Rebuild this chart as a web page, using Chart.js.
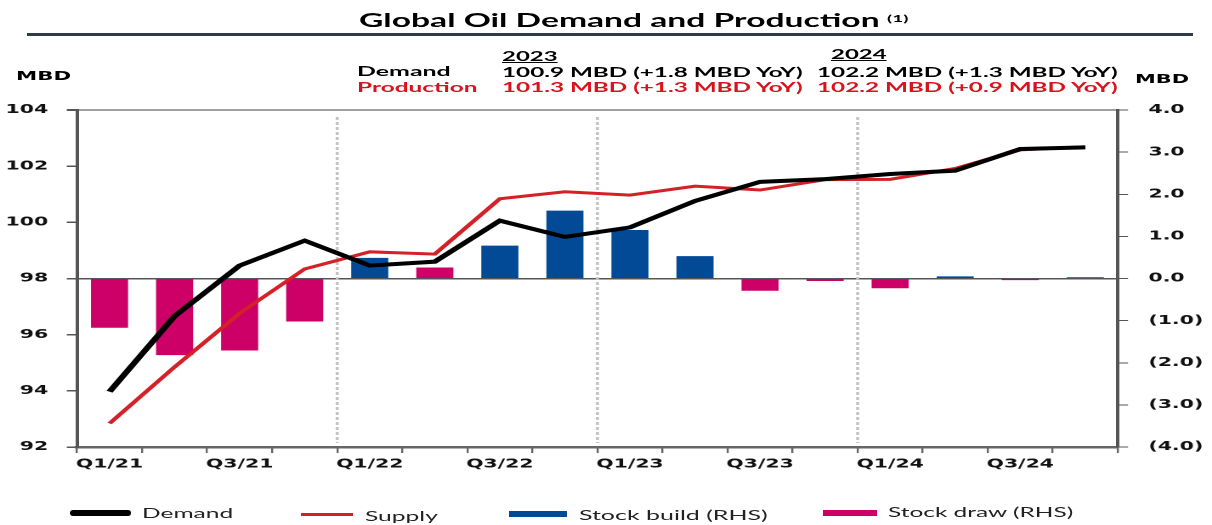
<!DOCTYPE html>
<html>
<head>
<meta charset="utf-8">
<script src="https://cdn.jsdelivr.net/npm/chart.js@4.4.1/dist/chart.umd.min.js"></script>
<style>
  html, body { margin: 0; padding: 0; background: #fff; }
  body { width: 1212px; height: 525px; position: relative; overflow: hidden; }
  #wrap { position: absolute; left: 0; top: 0; width: 713px; height: 525px; transform: scaleX(1.69986); transform-origin: 0 0; }
  .t { position: absolute; white-space: nowrap; line-height: 1; transform-origin: 0 50%; font-family: Lato, "Open Sans", sans-serif; }
  .b { font-weight: bold; }
  .red { color: #d7141e; }
  .sw { position: absolute; }
  #rule { position: absolute; left: 27px; top: 33px; width: 1166px; height: 3px; background: #2e3a48; }
</style>
</head>
<body>
<div id="wrap"><canvas id="oilChart"></canvas></div>

<div class="t b" data-x="359" data-w="521" data-y="20" style="font-size:18px">Global Oil Demand and Production</div>
<div class="t b" data-x="887" data-w="21" data-y="18" style="font-size:9px">(1)</div>
<div id="rule"></div>

<div class="t b" data-x="16" data-w="55" data-y="76" style="font-family:'DejaVu Sans';font-size:12px">MBD</div>
<div class="t b" data-x="1135" data-w="54" data-y="79" style="font-family:'DejaVu Sans';font-size:12px">MBD</div>

<div class="t b" data-x="502" data-w="55" data-y="57" style="font-size:13.5px;text-decoration:underline">2023</div>
<div class="t b" data-x="831" data-w="55" data-y="55" style="font-size:13.5px;text-decoration:underline">2024</div>
<div class="t b" data-x="357" data-w="94" data-y="72" style="font-size:13.5px">Demand</div>
<div class="t b red" data-x="357" data-w="121" data-y="88" style="font-size:13.5px">Production</div>
<div class="t b" data-x="502" data-w="300" data-y="73" style="font-size:13.5px">100.9 MBD (+1.8 MBD YoY)</div>
<div class="t b red" data-x="502" data-w="300" data-y="88" style="font-size:13.5px">101.3 MBD (+1.3 MBD YoY)</div>
<div class="t b" data-x="817" data-w="300" data-y="73" style="font-size:13.5px">102.2 MBD (+1.3 MBD YoY)</div>
<div class="t b red" data-x="817" data-w="300" data-y="88" style="font-size:13.5px">102.2 MBD (+0.9 MBD YoY)</div>

<div class="sw" style="left:70px;top:510px;width:61px;height:6px;background:#000;border-radius:3px"></div>
<div class="t" data-x="142" data-w="91" data-y="513" style="font-size:14px;color:#222">Demand</div>
<div class="sw" style="left:301px;top:513px;width:52px;height:3px;background:#d42027"></div>
<div class="t" data-x="365" data-w="72" data-y="516" style="font-size:14px;color:#222">Supply</div>
<div class="sw" style="left:509px;top:511px;width:58px;height:6px;background:#034a96"></div>
<div class="t" data-x="579" data-w="189" data-y="515" style="font-size:14px;color:#222">Stock build (RHS)</div>
<div class="sw" style="left:823px;top:510px;width:54px;height:6px;background:#cc0066"></div>
<div class="t" data-x="888" data-w="185" data-y="512" style="font-size:14px;color:#222">Stock draw (RHS)</div>

<script>
const quarters = ["Q1/21", "Q2/21", "Q3/21", "Q4/21", "Q1/22", "Q2/22", "Q3/22", "Q4/22",
                  "Q1/23", "Q2/23", "Q3/23", "Q4/23", "Q1/24", "Q2/24", "Q3/24", "Q4/24"];
const demand = [93.97, 96.66, 98.46, 99.35, 98.46, 98.60, 100.06, 99.48,
                99.82, 100.76, 101.44, 101.54, 101.72, 101.84, 102.61, 102.67];
const supply = [92.84, 94.85, 96.76, 98.34, 98.95, 98.87, 100.84, 101.09,
                100.97, 101.29, 101.15, 101.52, 101.53, 101.92, 102.58, 102.69];
const stockBuild = [null, null, null, null, 0.49, null, 0.78, 1.61,
                    1.15, 0.53, null, null, null, 0.05, null, 0.03];
const stockDraw = [-1.17, -1.82, -1.71, -1.02, null, 0.26, null, null,
                   null, null, -0.29, -0.06, -0.23, null, -0.04, null];
const leftTicks = [92, 94, 96, 98, 100, 102, 104];
const rightTicks = [-4, -3, -2, -1, 0, 1, 2, 3, 4];

document.addEventListener("DOMContentLoaded", function () {
    // stretch each header/legend text to the width it has in the picture
    document.querySelectorAll(".t").forEach(function (el) {
        const w = el.offsetWidth;
        const h = el.offsetHeight;
        el.style.left = el.dataset.x + "px";
        el.style.top = (parseFloat(el.dataset.y) - h / 2) + "px";
        el.style.transform = "scaleX(" + (parseFloat(el.dataset.w) / w) + ")";
    });

    const tickFont = { family: "'DejaVu Sans'", size: 12, weight: "bold" };

    // dotted year separators
    const yearLines = {
        id: "yearLines",
        beforeDatasetsDraw(chart) {
            const x = chart.scales.x;
            const area = chart.chartArea;
            const c = chart.ctx;
            c.save();
            c.strokeStyle = "#c4c4c4";
            c.lineWidth = 1.8;
            c.setLineDash([3, 2]);
            [4, 8, 12].forEach(function (i) {
                const px = (x.getPixelForValue(i - 1) + x.getPixelForValue(i)) / 2;
                c.beginPath();
                c.moveTo(px, area.top + 7);
                c.lineTo(px, area.bottom - 4);
                c.stroke();
            });
            c.restore();
        }
    };

    new Chart(document.getElementById("oilChart"), {
        type: "bar",
        data: {
            labels: quarters,
            datasets: [
                {
                    type: "line",
                    label: "Demand",
                    data: demand,
                    yAxisID: "y",
                    borderColor: "#000",
                    borderWidth: 4,
                    pointRadius: 0,
                    tension: 0,
                    order: 0
                },
                {
                    type: "line",
                    label: "Supply",
                    data: supply,
                    yAxisID: "y",
                    borderColor: "#d42027",
                    borderWidth: 3,
                    pointRadius: 0,
                    tension: 0,
                    order: 1
                },
                {
                    label: "Stock build (RHS)",
                    data: stockBuild,
                    yAxisID: "y1",
                    backgroundColor: "#034a96",
                    barPercentage: 0.57,
                    categoryPercentage: 1,
                    grouped: false,
                    order: 2
                },
                {
                    label: "Stock draw (RHS)",
                    data: stockDraw,
                    yAxisID: "y1",
                    backgroundColor: "#cc0066",
                    barPercentage: 0.57,
                    categoryPercentage: 1,
                    grouped: false,
                    order: 3
                }
            ]
        },
        options: {
            responsive: true,
            maintainAspectRatio: false,
            devicePixelRatio: 2,
            animation: false,
            layout: { padding: { top: 110, left: 0, right: 0, bottom: 0 } },
            plugins: {
                legend: { display: false },
                tooltip: { enabled: false }
            },
            scales: {
                x: {
                    afterFit: function (s) { s.height = 78; },
                    border: { color: "#666", width: 2.5 },
                    grid: { drawOnChartArea: false, tickLength: 6, color: "#666", lineWidth: 1.2 },
                    ticks: {
                        autoSkip: false,
                        maxRotation: 0,
                        padding: 4,
                        color: "#111",
                        font: tickFont,
                        callback: function (value, index) {
                            return index % 2 === 0 ? this.getLabelForValue(value) : "";
                        }
                    }
                },
                y: {
                    position: "left",
                    min: leftTicks[0],
                    max: leftTicks[leftTicks.length - 1],
                    afterFit: function (s) { s.width = 45.3; },
                    afterBuildTicks: function (s) { s.ticks = leftTicks.map(function (v) { return { value: v }; }); },
                    border: { color: "#555", width: 2 },
                    grid: {
                        tickLength: 6,
                        tickColor: "#555",
                        color: function (ctx) {
                            if (!ctx.tick) return "rgba(0,0,0,0)";
                            if (ctx.tick.value === 98) return "#555";
                            if (ctx.tick.value === 104) return "#a0a0a0";
                            return "rgba(0,0,0,0)";
                        },
                        lineWidth: function (ctx) {
                            return ctx.tick && ctx.tick.value === 104 ? 2 : 1.5;
                        }
                    },
                    ticks: { padding: 11, color: "#111", font: tickFont }
                },
                y1: {
                    position: "right",
                    min: rightTicks[0],
                    max: rightTicks[rightTicks.length - 1],
                    afterFit: function (s) { s.width = 55.4; },
                    afterBuildTicks: function (s) { s.ticks = rightTicks.map(function (v) { return { value: v }; }); },
                    border: { color: "#555", width: 2 },
                    grid: { drawOnChartArea: false, tickLength: 6, color: "#555" },
                    ticks: {
                        padding: 12,
                        color: "#111",
                        font: tickFont,
                        callback: function (v) {
                            return v < 0 ? "(" + Math.abs(v).toFixed(1) + ")" : v.toFixed(1);
                        }
                    }
                }
            }
        },
        plugins: [yearLines]
    });
});
</script>
</body>
</html>
